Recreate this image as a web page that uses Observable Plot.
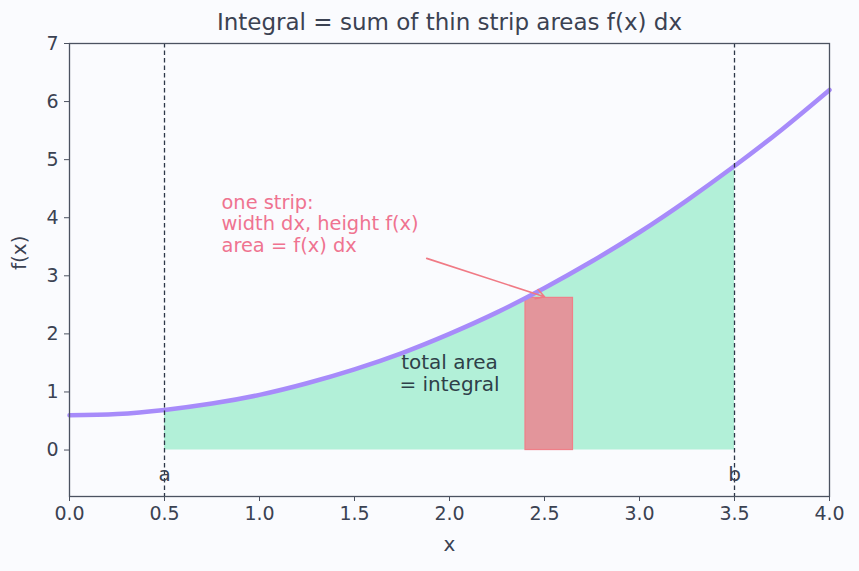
<!DOCTYPE html>
<html>
<head>
<meta charset="utf-8">
<script src="https://cdn.jsdelivr.net/npm/d3@7"></script>
<script src="https://cdn.jsdelivr.net/npm/@observablehq/plot@0.6"></script>
<style>
  body { margin: 0; background: #fafbfe; }
  #chart svg { display: block; }
</style>
</head>
<body>
<div id="chart"></div>
<script>
// Sampled curve f(x)
const xs = [0, 0.25, 0.5, 0.75, 1.0, 1.25, 1.5, 1.75, 2.0, 2.25, 2.5, 2.75, 3.0, 3.25, 3.5, 3.75, 4.0];
const fx = [0.60, 0.62, 0.69, 0.80, 0.95, 1.15, 1.39, 1.67, 2.00, 2.37, 2.79, 3.25, 3.75, 4.30, 4.89, 5.52, 6.20];

// Integration limits and labels
const limits = [0.5, 3.5];
const limitLabels = ["a", "b"];

// One highlighted strip
const stripX = [2.4, 2.65];
const stripHeight = 2.62;

// Tick values
const xTicks = [0, 0.5, 1, 1.5, 2, 2.5, 3, 3.5, 4];
const yTicks = [0, 1, 2, 3, 4, 5, 6, 7];

const curve = xs.map((x, i) => ({x, y: fx[i]}));
const shaded = curve.filter(d => d.x >= limits[0] && d.x <= limits[1]);

const font = "DejaVu Sans, sans-serif";
const ink = "#3b4252";

const chart = Plot.plot({
  width: 859,
  height: 571,
  marginLeft: 69,
  marginRight: 30,
  marginTop: 43,
  marginBottom: 75,
  style: {background: "#fafbfe", fontFamily: font, fontSize: "19px", color: ink},
  x: {domain: [0, 4], ticks: xTicks, tickFormat: d3.format(".1f"), label: null},
  y: {domain: [-0.8, 7], ticks: yTicks, tickFormat: d => String(d), label: null},
  marks: [
    // shaded area under the curve between a and b
    Plot.areaY(shaded, {x: "x", y1: 0, y2: "y", fill: "#b2f0d8", curve: "natural"}),
    // single strip f(x) dx
    Plot.rect([{x1: stripX[0], x2: stripX[1], y1: 0, y2: stripHeight}], {
      x1: "x1", x2: "x2", y1: "y1", y2: "y2",
      fill: "#e3959b", stroke: "#f07f88", strokeWidth: 1.2
    }),
    // the curve
    Plot.line(curve, {x: "x", y: "y", stroke: "#a78bfa", strokeWidth: 4.5, curve: "natural"}),
    // limit lines
    Plot.ruleX(limits, {stroke: "#2d3748", strokeWidth: 1.3, strokeDasharray: "4.5,3"}),
    Plot.text(limits, {x: d => d, y: -0.42, text: (d, i) => limitLabels[i], fill: ink, fontSize: 20}),
    // annotations
    Plot.text(["one strip:\nwidth dx, height f(x)\narea = f(x) dx"], {
      x: 0.8, y: 3.9, text: d => d, textAnchor: "start", lineAnchor: "middle",
      fill: "#ef7390", fontSize: 19.4, lineHeight: 1.11
    }),
    Plot.arrow([{x1: 1.88, y1: 3.3, x2: 2.5, y2: 2.64}], {
      x1: "x1", y1: "y1", x2: "x2", y2: "y2",
      stroke: "#f07a85", strokeWidth: 1.6, headLength: 9, bend: false
    }),
    Plot.text(["total area\n= integral"], {
      x: 2.0, y: 1.33, text: d => d, fill: "#2e4048", fontSize: 20, lineHeight: 1.08
    }),
    // frame and axes
    Plot.frame({stroke: "#4b5260", strokeWidth: 1.3}),
    Plot.axisX({ticks: xTicks, tickFormat: d3.format(".1f"), tickSize: 5, tickPadding: 5, fontSize: 19, stroke: "#4b5260", label: null}),
    Plot.axisY({ticks: yTicks, tickSize: 5, tickPadding: 6, fontSize: 19, stroke: "#4b5260", label: null}),
    Plot.text(["x"], {frameAnchor: "bottom", dy: 54, text: d => d, fill: ink, fontSize: 20}),
    Plot.text(["f(x)"], {frameAnchor: "left", dx: -50, dy: 0, rotate: -90, text: d => d, fill: ink, fontSize: 20}),
    Plot.text(["Integral = sum of thin strip areas f(x) dx"], {
      frameAnchor: "top", dy: -21, lineAnchor: "middle", text: d => d, fill: ink, fontSize: 23
    })
  ]
});

document.getElementById("chart").append(chart);
</script>
</body>
</html>
